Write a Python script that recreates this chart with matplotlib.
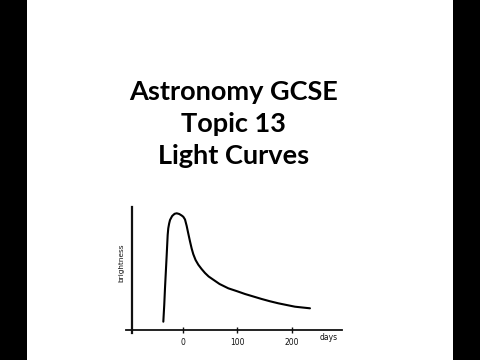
import matplotlib
matplotlib.use("Agg")
import matplotlib.pyplot as plt
from matplotlib.patches import Rectangle

# Data
days = [-35.2, -33.5, -32.1, -30.5, -29.0, -27.2, -26.1, -24.5, -22.9, -19.0,
        -14.5, -10.6, -6.0, -1.5, 1.5, 4.6, 7.7, 10.6, 13.8, 16.8, 19.8,
        24.0, 29.0, 35.0, 41.3, 48.0, 56.5, 68.0, 84.0, 100.0, 114.7, 130.0,
        145.3, 160.0, 175.8, 191.0, 206.4, 220.0, 233.9]
brightness = [8.3, 25.0, 42.0, 59.0, 75.0, 95.0, 101.7, 106.5, 110.0, 114.0,
              116.2, 116.7, 116.0, 114.5, 113.2, 110.5, 104.0, 96.5, 88.5, 81.5, 75.8,
              70.0, 65.3, 61.0, 57.0, 53.5, 50.3, 46.0, 41.7, 38.8, 36.0, 33.5,
              31.0, 28.8, 26.7, 25.0, 23.3, 22.5, 21.7]
xticks = [0, 100, 200]
xtick_labels = ["0", "100", "200"]
title_lines = ["Astronomy GCSE", "Topic 13", "Light Curves"]

W, H = 480, 360
fig = plt.figure(figsize=(W / 100, H / 100), dpi=100)
fig.patch.set_facecolor("white")

# Black side bars
fig.add_artist(Rectangle((0, 0), 27 / W, 1, transform=fig.transFigure,
                         facecolor="black", edgecolor="none"))
fig.add_artist(Rectangle((453 / W, 0), 27 / W, 1, transform=fig.transFigure,
                         facecolor="black", edgecolor="none"))

# Title text
title_y = [92, 124, 156]
for line, yp in zip(title_lines, title_y):
    fig.text(233.5 / W, 1 - yp / H, line, ha="center", va="center",
             fontsize=19.5, fontweight="bold", family="Lato", color="black")

# Axes: pixel box x 126..342, y 207..330
ax = fig.add_axes([126 / W, (H - 330) / H, (342 - 126) / W, (330 - 207) / H])
ax.set_facecolor("none")
x0 = 182.5
scale = 0.545  # px per day
ax.set_xlim((126 - x0) / scale, (342 - x0) / scale)
ax.set_ylim(0, 123)

ax.plot(days, brightness, color="black", linewidth=1.5,
        solid_capstyle="round", solid_joinstyle="round")

for s in ["top", "right"]:
    ax.spines[s].set_visible(False)
ax.spines["left"].set_position(("data", (131.7 - x0) / scale))
ax.spines["left"].set_bounds(-3, 123)
ax.spines["left"].set_linewidth(1.6)
ax.spines["bottom"].set_linewidth(1.3)
ax.spines["left"].set_color("#111111")
ax.spines["bottom"].set_color("#111111")

ax.set_yticks([])
ax.set_xticks(xticks)
ax.set_xticklabels(xtick_labels, family="DejaVu Sans", fontsize=5.5)
ax.tick_params(axis="x", direction="inout", length=4, width=1.0, pad=4,
               colors="#111111")

fig.text(329 / W, 1 - 337 / H, "days", ha="center", va="center",
         fontsize=5.5, family="DejaVu Sans", color="#111111")
fig.text(121.5 / W, 1 - 263 / H, "brightness", ha="center", va="center",
         rotation=90, fontsize=5.3, family="DejaVu Sans", color="#111111")

fig.savefig("out.png", dpi=100, facecolor="white")
